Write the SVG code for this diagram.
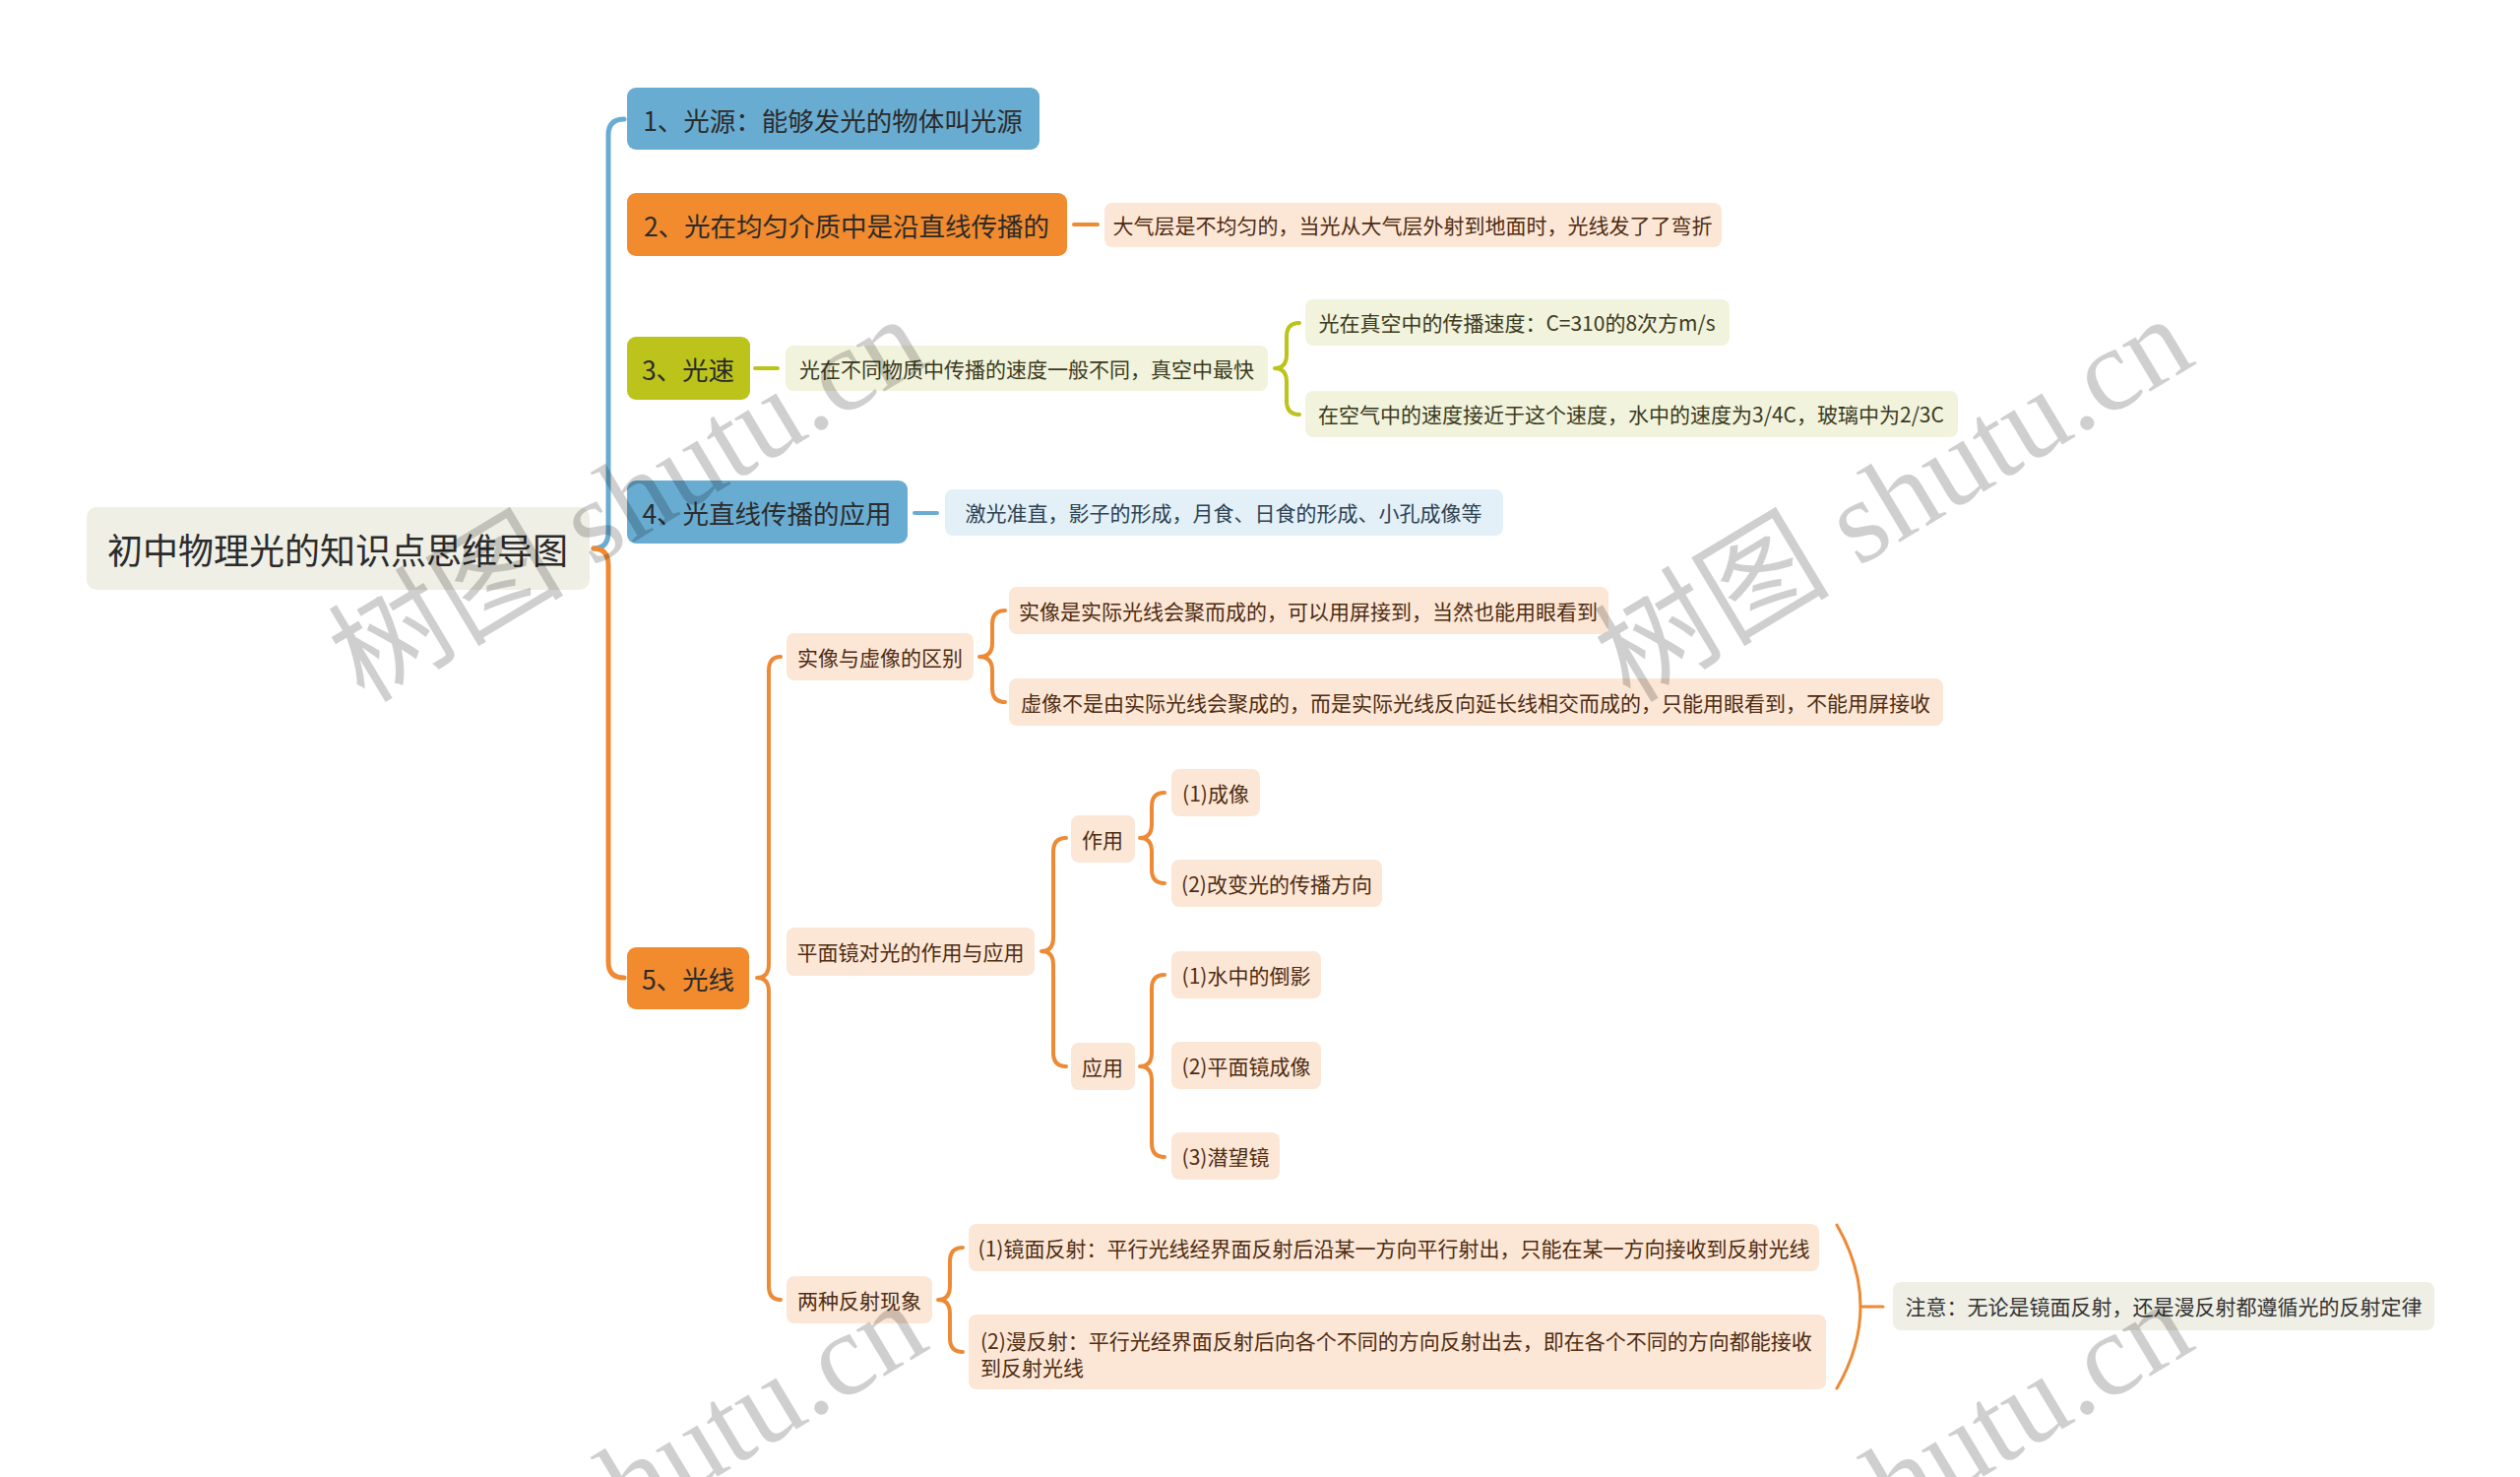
<svg xmlns="http://www.w3.org/2000/svg" width="2560" height="1500" viewBox="0 0 2560 1500">
<style>
text{font-family:"Noto Sans CJK SC","Noto Sans",sans-serif;dominant-baseline:central;text-anchor:middle}
.root rect{fill:#efefe6}
.root text{font-size:36px;fill:#2b2b2b}
.main text{font-size:26.5px;fill:#2b2b2b}
.blue rect{fill:#69acd2}
.orange rect{fill:#f28a2e}
.olive rect{fill:#bcc31b}
.sub text{font-size:21px}
.po rect{fill:#fce7d6}
.po text{fill:#4e2c12}
.pg rect{fill:#f2f3dc}
.pg text{fill:#3a3a1e}
.pb rect{fill:#e3f0f8}
.pb text{fill:#2c4252}
.note rect{fill:#efefe6}
.note text{fill:#333}
.c{fill:none;stroke-linecap:round;stroke-linejoin:round}
.cb{stroke:#69acd2;stroke-width:5}
.co{stroke:#f08a32;stroke-width:5}
.co4{stroke:#ec8a36;stroke-width:4}
.cg{stroke:#bcc31b;stroke-width:4}
.wm{font-family:"Liberation Serif","Noto Sans CJK SC",serif;font-size:120px;fill:#000;fill-opacity:0.19;dominant-baseline:auto;text-anchor:start}
</style>

<g id="connectors">
  <path class="c cb" d="M603,557 Q618,557 618,540 L618,137 Q618,121 634,121"/>
  <path class="c co" d="M603,557 Q618,557 618,574 L618,977 Q618,993 634,993"/>
  <path class="c co4" d="M1091,228 L1115,228"/>
  <path class="c cg" d="M767,374 L790,374"/>
  <path class="c cb" style="stroke-width:4" d="M929,521 L952,521"/>
  <path class="c cg" d="M1320,328 Q1307,328 1307,342 L1307,360 Q1307,374 1295,374 Q1307,374 1307,388 L1307,407 Q1307,421 1320,421"/>
  <path class="c co4" d="M793,667 Q781,667 781,681 L781,979 Q781,993 769,993 Q781,993 781,1007 L781,1306 Q781,1320 793,1320"/>
  <path class="c co4" d="M1021,620 Q1008,620 1008,634 L1008,653 Q1008,667 995,667 Q1008,667 1008,681 L1008,699 Q1008,713 1021,713"/>
  <path class="c co4" d="M1083,851 Q1070,851 1070,865 L1070,952 Q1070,966 1058,966 Q1070,966 1070,980 L1070,1069 Q1070,1083 1083,1083"/>
  <path class="c co4" d="M1183,805 Q1170,805 1170,819 L1170,837 Q1170,851 1158,851 Q1170,851 1170,865 L1170,883 Q1170,897 1183,897"/>
  <path class="c co4" d="M1183,990 Q1170,990 1170,1004 L1170,1069 Q1170,1083 1158,1083 Q1170,1083 1170,1097 L1170,1161 Q1170,1175 1183,1175"/>
  <path class="c co4" d="M978,1267 Q965,1267 965,1281 L965,1306 Q965,1320 953,1320 Q965,1320 965,1334 L965,1359 Q965,1373 978,1373"/>
  <path class="c co4" style="stroke-width:3" d="M1866,1244 Q1914,1327 1866,1410"/>
  <path class="c co4" style="stroke-width:3" d="M1890,1327 L1913,1327"/>
</g>

<g id="root" class="root"><rect x="88" y="515" width="511" height="84" rx="10"/><text x="343" y="557">初中物理光的知识点思维导图</text></g>

<g id="n1" class="main blue"><rect x="637" y="89" width="419" height="63" rx="9"/><text x="846" y="121">1、光源：能够发光的物体叫光源</text></g>
<g id="n2" class="main orange"><rect x="637" y="196" width="447" height="64" rx="9"/><text x="860" y="228">2、光在均匀介质中是沿直线传播的</text></g>
<g id="n3" class="main olive"><rect x="637" y="342" width="125" height="64" rx="9"/><text x="699" y="374">3、光速</text></g>
<g id="n4" class="main blue"><rect x="637" y="488" width="285" height="64" rx="9"/><text x="779" y="520">4、光直线传播的应用</text></g>
<g id="n5" class="main orange"><rect x="637" y="962" width="124" height="63" rx="9"/><text x="699" y="993">5、光线</text></g>

<g id="n2a" class="sub po"><rect x="1122" y="206" width="627" height="45" rx="8"/><text x="1435" y="228">大气层是不均匀的，当光从大气层外射到地面时，光线发了了弯折</text></g>

<g id="n3a" class="sub pg"><rect x="798" y="351" width="490" height="46" rx="8"/><text x="1043" y="374">光在不同物质中传播的速度一般不同，真空中最快</text></g>
<g id="n3a1" class="sub pg"><rect x="1326" y="304" width="431" height="47" rx="8"/><text x="1541" y="327">光在真空中的传播速度：C=310的8次方m/s</text></g>
<g id="n3a2" class="sub pg"><rect x="1326" y="397" width="663" height="47" rx="8"/><text x="1657" y="420">在空气中的速度接近于这个速度，水中的速度为3/4C，玻璃中为2/3C</text></g>

<g id="n4a" class="sub pb"><rect x="960" y="497" width="567" height="47" rx="8"/><text x="1243" y="520">激光准直，影子的形成，月食、日食的形成、小孔成像等</text></g>

<g id="n5a" class="sub po"><rect x="799" y="643" width="190" height="48" rx="8"/><text x="894" y="667">实像与虚像的区别</text></g>
<g id="n5a1" class="sub po"><rect x="1025" y="596" width="609" height="48" rx="8"/><text x="1329" y="620">实像是实际光线会聚而成的，可以用屏接到，当然也能用眼看到</text></g>
<g id="n5a2" class="sub po"><rect x="1025" y="689" width="949" height="48" rx="8"/><text x="1499" y="713">虚像不是由实际光线会聚成的，而是实际光线反向延长线相交而成的，只能用眼看到，不能用屏接收</text></g>

<g id="n5b" class="sub po"><rect x="799" y="942" width="252" height="49" rx="8"/><text x="925" y="966">平面镜对光的作用与应用</text></g>
<g id="n5b1" class="sub po"><rect x="1088" y="828" width="65" height="48" rx="8"/><text x="1120" y="852">作用</text></g>
<g id="n5b1a" class="sub po"><rect x="1190" y="781" width="90" height="48" rx="8"/><text x="1235" y="805">(1)成像</text></g>
<g id="n5b1b" class="sub po"><rect x="1190" y="873" width="214" height="48" rx="8"/><text x="1297" y="897">(2)改变光的传播方向</text></g>
<g id="n5b2" class="sub po"><rect x="1088" y="1059" width="65" height="48" rx="8"/><text x="1120" y="1083">应用</text></g>
<g id="n5b2a" class="sub po"><rect x="1190" y="966" width="152" height="48" rx="8"/><text x="1266" y="990">(1)水中的倒影</text></g>
<g id="n5b2b" class="sub po"><rect x="1190" y="1058" width="152" height="48" rx="8"/><text x="1266" y="1082">(2)平面镜成像</text></g>
<g id="n5b2c" class="sub po"><rect x="1190" y="1150" width="110" height="48" rx="8"/><text x="1245" y="1174">(3)潜望镜</text></g>

<g id="n5c" class="sub po"><rect x="799" y="1296" width="148" height="48" rx="8"/><text x="873" y="1320">两种反射现象</text></g>
<g id="n5c1" class="sub po"><rect x="984" y="1243" width="864" height="48" rx="8"/><text x="1416" y="1267">(1)镜面反射：平行光线经界面反射后沿某一方向平行射出，只能在某一方向接收到反射光线</text></g>
<g id="n5c2" class="sub po"><rect x="984" y="1335" width="871" height="76" rx="8"/><text x="996" y="1361" style="text-anchor:start">(2)漫反射：平行光经界面反射后向各个不同的方向反射出去，即在各个不同的方向都能接收</text><text x="996" y="1388" style="text-anchor:start">到反射光线</text></g>

<g id="note" class="sub note"><rect x="1923" y="1302" width="550" height="49" rx="8"/><text x="2198" y="1326">注意：无论是镜面反射，还是漫反射都遵循光的反射定律</text></g>

<g id="watermarks">
  <text class="wm" x="370" y="715" transform="rotate(-31 370 715)">树图 shutu.cn</text>
  <text class="wm" x="1656" y="715" transform="rotate(-31 1656 715)">树图 shutu.cn</text>
  <text class="wm" x="370" y="1715" transform="rotate(-31 370 1715)">树图 shutu.cn</text>
  <text class="wm" x="1656" y="1715" transform="rotate(-31 1656 1715)">树图 shutu.cn</text>
</g>
</svg>
